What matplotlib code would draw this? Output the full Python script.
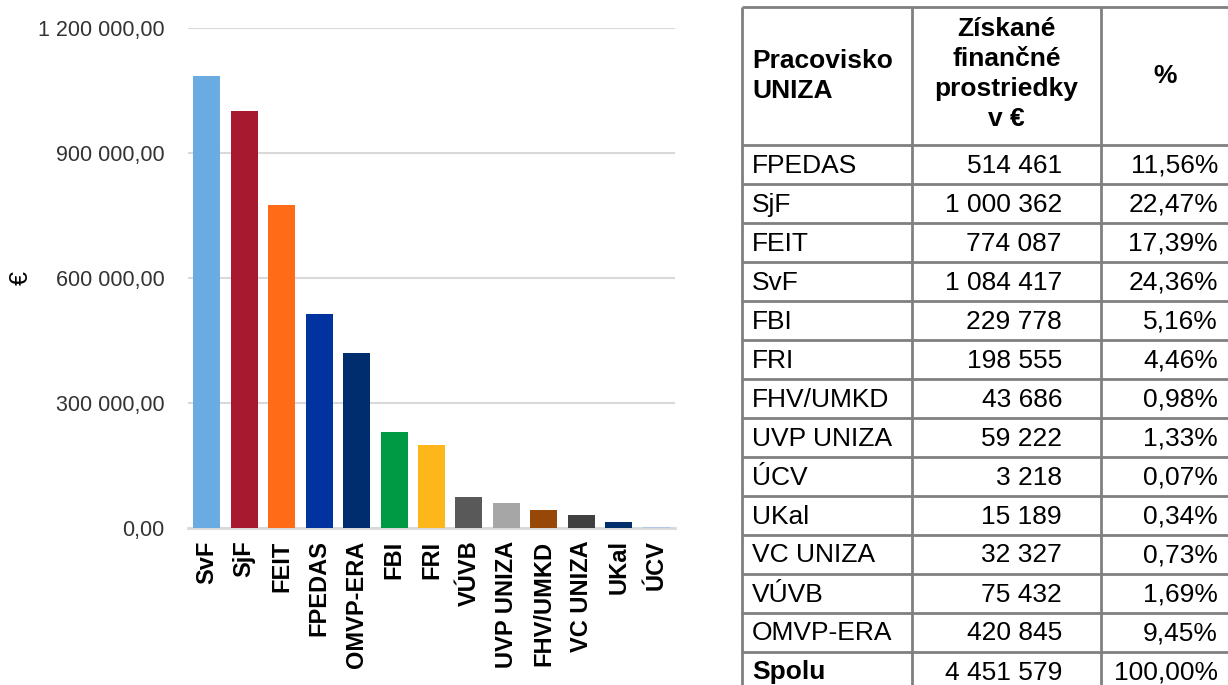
import matplotlib
matplotlib.use("Agg")
import matplotlib.pyplot as plt
import numpy as np

plt.rcParams['font.family'] = ['Liberation Sans', 'DejaVu Sans']

# chart data (sorted as in the chart)
bar_names = ['SvF', 'SjF', 'FEIT', 'FPEDAS', 'OMVP-ERA', 'FBI', 'FRI', 'VÚVB',
             'UVP UNIZA', 'FHV/UMKD', 'VC UNIZA', 'UKal', 'ÚCV']
bar_values = [1084417, 1000362, 774087, 514461, 420845, 229778, 198555, 75432,
              59222, 43686, 32327, 15189, 3218]
bar_colors = ['#6AACE2', '#A6192E', '#FF6B17', '#0033A0', '#002D6E', '#009A44',
              '#FDB71A', '#595959', '#A6A6A6', '#974806', '#404040', '#002F6C', '#B4C7E7']
y_ticks = [0, 300000, 600000, 900000, 1200000]
y_tick_labels = ['0,00', '300 000,00', '600 000,00', '900 000,00', '1 200 000,00']

# table data
tab_names = ['FPEDAS', 'SjF', 'FEIT', 'SvF', 'FBI', 'FRI', 'FHV/UMKD', 'UVP UNIZA',
             'ÚCV', 'UKal', 'VC UNIZA', 'VÚVB', 'OMVP-ERA']
tab_values = [514461, 1000362, 774087, 1084417, 229778, 198555, 43686, 59222,
              3218, 15189, 32327, 75432, 420845]
tab_header = ['Pracovisko\nUNIZA', 'Získané\nfinančné\nprostriedky\nv €', '%']
total_label = 'Spolu'

W, H = 1228, 685
fig = plt.figure(figsize=(W / 100, H / 100), dpi=100)

# ---- bar chart ----
ax = fig.add_axes([188 / W, 1 - 528 / H, 487 / W, 500 / H])
x = np.arange(len(bar_names))
ax.bar(x, bar_values, width=0.72, color=bar_colors, zorder=5)
ax.set_xlim(-0.5, len(bar_names) - 0.5)
ax.set_ylim(0, 1200000)
ax.set_yticks(y_ticks)
ax.set_yticklabels(y_tick_labels, fontsize=15.5, color='#333333')
ax.set_xticks(x)
ax.set_xticklabels(bar_names, rotation=90, fontsize=17, fontweight='bold')
ax.tick_params(axis='y', length=0, pad=17)
ax.tick_params(axis='x', length=0, pad=9)
ax.grid(axis='y', color='#D9D9D9', linewidth=1.5, zorder=0)
ax.set_axisbelow(True)
for s in ['top', 'right', 'left']:
    ax.spines[s].set_visible(False)
ax.spines['bottom'].set_color('#D9D9D9')
ax.spines['bottom'].set_linewidth(2)
ax.spines['bottom'].set_zorder(4)
fig.text(21 / W, 1 - 278 / H, '€', rotation=90, fontsize=18, ha='center', va='center')

# ---- table ----
tx = fig.add_axes([0, 0, 1, 1])
tx.set_xlim(0, W)
tx.set_ylim(H, 0)
tx.axis('off')

col_x = [742, 912, 1101, 1229]
top, head_bot, row_h = 7, 145, 39
n_rows = len(tab_names) + 1
line_kw = dict(color='#808080', linewidth=2, solid_capstyle='butt')

bottom = head_bot + n_rows * row_h
for cx in col_x:
    tx.plot([cx, cx], [top, bottom], **line_kw)
tx.plot([col_x[0], col_x[-1]], [top, top], **line_kw)
for i in range(n_rows + 1):
    yy = head_bot + i * row_h
    tx.plot([col_x[0], col_x[-1]], [yy, yy], **line_kw)

fs = 19
hy = (top + head_bot) / 2
tx.text(col_x[0] + 10, hy, tab_header[0], fontsize=fs, fontweight='bold',
        ha='left', va='center', linespacing=1.3)
tx.text((col_x[1] + col_x[2]) / 2, hy - 2, tab_header[1], fontsize=fs, fontweight='bold',
        ha='center', va='center', linespacing=1.3)
tx.text((col_x[2] + col_x[3]) / 2, hy, tab_header[2], fontsize=fs, fontweight='bold',
        ha='center', va='center')


def fmt_int(v):
    return f'{v:,}'.replace(',', ' ')


def fmt_pct(p):
    return f'{p:.2f}'.replace('.', ',') + '%'


total = sum(tab_values)
rows = [(n, v, False) for n, v in zip(tab_names, tab_values)] + [(total_label, total, True)]
for i, (name, val, bold) in enumerate(rows):
    cy = head_bot + i * row_h + row_h / 2 + 1
    tx.text(col_x[0] + 10, cy, name, fontsize=fs, ha='left', va='center',
            fontweight='bold' if bold else 'normal')
    tx.text(1062, cy, fmt_int(val), fontsize=fs, ha='right', va='center')
    tx.text(1218, cy, fmt_pct(val / total * 100), fontsize=fs, ha='right', va='center')

fig.savefig('out.png', dpi=100)
